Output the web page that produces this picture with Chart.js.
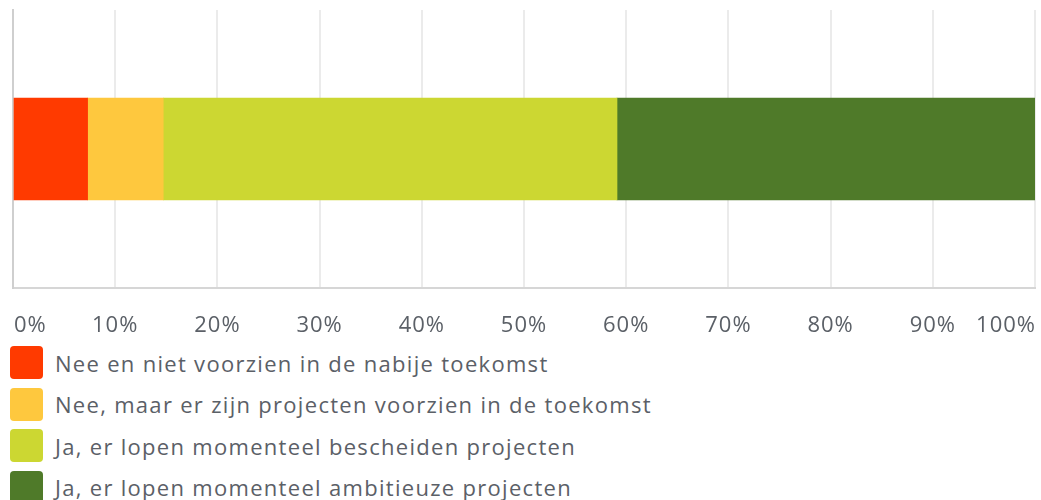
<!DOCTYPE html>
<html>
<head>
<meta charset="utf-8">
<script src="https://cdn.jsdelivr.net/npm/chart.js@4/dist/chart.umd.min.js"></script>
<style>
  body { margin: 0; background: #fff; font-family: "Open Sans", sans-serif; }
  #wrap { position: relative; width: 1041px; height: 342px; }
  #legend { list-style: none; margin: 0; padding: 0 0 0 10px; }
  #legend li { display: flex; align-items: center; height: 41.5px; color: #5b6067; font-size: 22px; letter-spacing: 1.3px; }
  #legend span.box { width: 33px; height: 33px; border-radius: 4px; margin-right: 12px; flex: none; }
</style>
</head>
<body>
<div id="wrap"><canvas id="chart"></canvas></div>
<ul id="legend"></ul>
<script>
// Chart data
const categories = [''];
const seriesNames = [
    'Nee en niet voorzien in de nabije toekomst',
    'Nee, maar er zijn projecten voorzien in de toekomst',
    'Ja, er lopen momenteel bescheiden projecten',
    'Ja, er lopen momenteel ambitieuze projecten'
];
const seriesValues = [7.3, 7.4, 44.4, 40.9];
const seriesColors = ['#ff3a00', '#fec83e', '#ccd732', '#4f7a29'];
const tickValues = [0, 10, 20, 30, 40, 50, 60, 70, 80, 90, 100];

const datasets = seriesNames.map((name, i) => ({
    label: name,
    data: [seriesValues[i]],
    backgroundColor: seriesColors[i],
    borderWidth: 0,
    barThickness: 102
}));

// Draw the x tick labels so the first/last stay inside the canvas
const tickLabelPlugin = {
    id: 'tickLabels',
    afterDraw(chart) {
        const ctx = chart.ctx;
        const xScale = chart.scales.x;
        ctx.save();
        ctx.font = '22px "Open Sans", sans-serif';
        ctx.letterSpacing = '1px';
        ctx.fillStyle = '#5b6067';
        ctx.textBaseline = 'middle';
        tickValues.forEach((v, i) => {
            const x = xScale.getPixelForValue(v);
            if (i === 0) { ctx.textAlign = 'left'; ctx.fillText(v + '%', x + 1, 326); }
            else if (i === tickValues.length - 1) { ctx.textAlign = 'right'; ctx.fillText(v + '%', x + 1, 326); }
            else { ctx.textAlign = 'center'; ctx.fillText(v + '%', x, 326); }
        });
        ctx.restore();
    }
};

const ctx = document.getElementById('chart').getContext('2d');
const chart = new Chart(ctx, {
    type: 'bar',
    data: { labels: categories, datasets: datasets },
    plugins: [tickLabelPlugin],
    options: {
        indexAxis: 'y',
        responsive: true,
        maintainAspectRatio: false,
        animation: false,
        layout: { padding: { top: 10, left: 13, right: 6, bottom: 54 } },
        plugins: {
            legend: { display: false },
            tooltip: { enabled: false }
        },
        scales: {
            x: {
                stacked: true,
                min: 0,
                max: 100,
                ticks: { display: false, stepSize: 10 },
                grid: { color: '#ebebeb', lineWidth: 2, drawTicks: false },
                border: { color: '#d6d6d6', width: 2 }
            },
            y: {
                stacked: true,
                ticks: { display: false },
                grid: { display: false, drawTicks: false },
                border: { color: '#cfcfcf', width: 2 }
            }
        }
    }
});

// HTML legend, one row per series
const legend = document.getElementById('legend');
seriesNames.forEach((name, i) => {
    const li = document.createElement('li');
    const box = document.createElement('span');
    box.className = 'box';
    box.style.background = seriesColors[i];
    li.appendChild(box);
    li.appendChild(document.createTextNode(name));
    legend.appendChild(li);
});
</script>
</body>
</html>
